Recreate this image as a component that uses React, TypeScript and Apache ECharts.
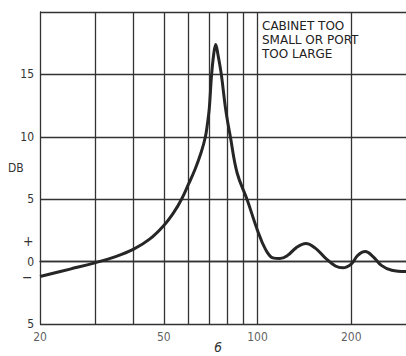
import React, { useEffect, useRef } from "react";
import * as echarts from "echarts";

const freqs = [20, 25, 30, 35, 40, 45, 50, 54, 57, 60, 63, 66, 68, 69, 70, 71.1, 72.3, 73.4, 74.6, 76.5, 79, 81.8, 86, 92.5, 100, 106, 112, 118, 125, 133, 143, 153, 165, 178, 188, 200, 210, 222, 235, 250, 270, 300];
const dbs = [-1.2, -0.6, -0.1, 0.4, 1.0, 1.8, 2.9, 4.0, 5.0, 6.2, 7.4, 8.8, 10.0, 11.0, 12.3, 14.8, 16.6, 17.4, 16.6, 15.0, 12.2, 10.0, 7.1, 5.0, 2.5, 1.0, 0.3, 0.25, 0.5, 1.1, 1.45, 1.1, 0.3, -0.35, -0.5, -0.2, 0.5, 0.8, 0.4, -0.3, -0.7, -0.8];
const gridFreqs = [30, 40, 50, 60, 70, 80, 90, 100, 200];
const xTickLabels = [20, 50, 100, 200];
const annotation = ["CABINET TOO", "SMALL OR PORT", "TOO LARGE"];

const INK = "#333";
const FONT = "DejaVu Sans Condensed";

export default function App() {
  const ref = useRef<HTMLDivElement>(null);
  useEffect(() => {
    if (!ref.current) return;
    const chart = echarts.init(ref.current, undefined, { renderer: "svg" });
    chart.setOption({
      animation: false,
      backgroundColor: "#fff",
      grid: { left: 40, top: 12, right: -3, bottom: 32 },
      xAxis: {
        type: "log",
        logBase: 10,
        min: 20,
        max: 300,
        axisLine: { show: true, lineStyle: { color: INK, width: 1.3 } },
        axisTick: { show: false },
        axisLabel: { show: false },
        splitLine: { show: false },
      },
      yAxis: {
        type: "value",
        min: -5,
        max: 20,
        interval: 5,
        axisLine: { show: true, lineStyle: { color: INK, width: 1.3 } },
        axisTick: { show: false },
        axisLabel: {
          margin: 6,
          fontSize: 12,
          fontFamily: FONT,
          color: INK,
          formatter: (v: number) => (v === 20 ? "" : String(Math.abs(v))),
        },
        splitLine: { show: true, lineStyle: { color: INK, width: 1.3 } },
      },
      graphic: [
        { type: "text", left: 8, top: 162, style: { text: "DB", fontSize: 12, fontFamily: FONT, fill: INK } },
        { type: "text", left: 23, top: 234, style: { text: "+", fontSize: 14, fontFamily: FONT, fill: INK } },
        { type: "text", left: 22, top: 270, style: { text: "−", fontSize: 14, fontFamily: FONT, fill: INK } },
        { type: "text", left: 214, top: 340, style: { text: "6", fontSize: 14, fontStyle: "italic", fontFamily: FONT, fill: INK } },
        {
          type: "text",
          left: 262,
          top: 19,
          style: { text: annotation.join("\n"), fontSize: 12, lineHeight: 14, fontFamily: "DejaVu Sans", fill: "#222" },
        },
      ],
      series: [
        {
          type: "scatter",
          data: xTickLabels.map((f) => [f, -5]),
          symbolSize: 0,
          clip: false,
          silent: true,
          label: {
            show: true,
            position: "bottom",
            distance: 7,
            fontSize: 12,
            fontFamily: FONT,
            color: INK,
            formatter: (p: any) => String(p.value[0]),
          },
          markLine: {
            silent: true,
            symbol: ["none", "none"],
            label: { show: false },
            lineStyle: { type: "solid", color: INK, width: 1.3 },
            data: gridFreqs.map((f) => ({ xAxis: f })),
          },
        },
        {
          type: "line",
          data: freqs.map((f, i) => [f, dbs[i]]),
          smooth: 0.4,
          symbol: "none",
          lineStyle: { color: "#262626", width: 3 },
          z: 5,
        },
      ],
    });
    return () => chart.dispose();
  }, []);
  return <div ref={ref} style={{ position: "fixed", left: 0, top: 0, width: 406, height: 356 }} />;
}
